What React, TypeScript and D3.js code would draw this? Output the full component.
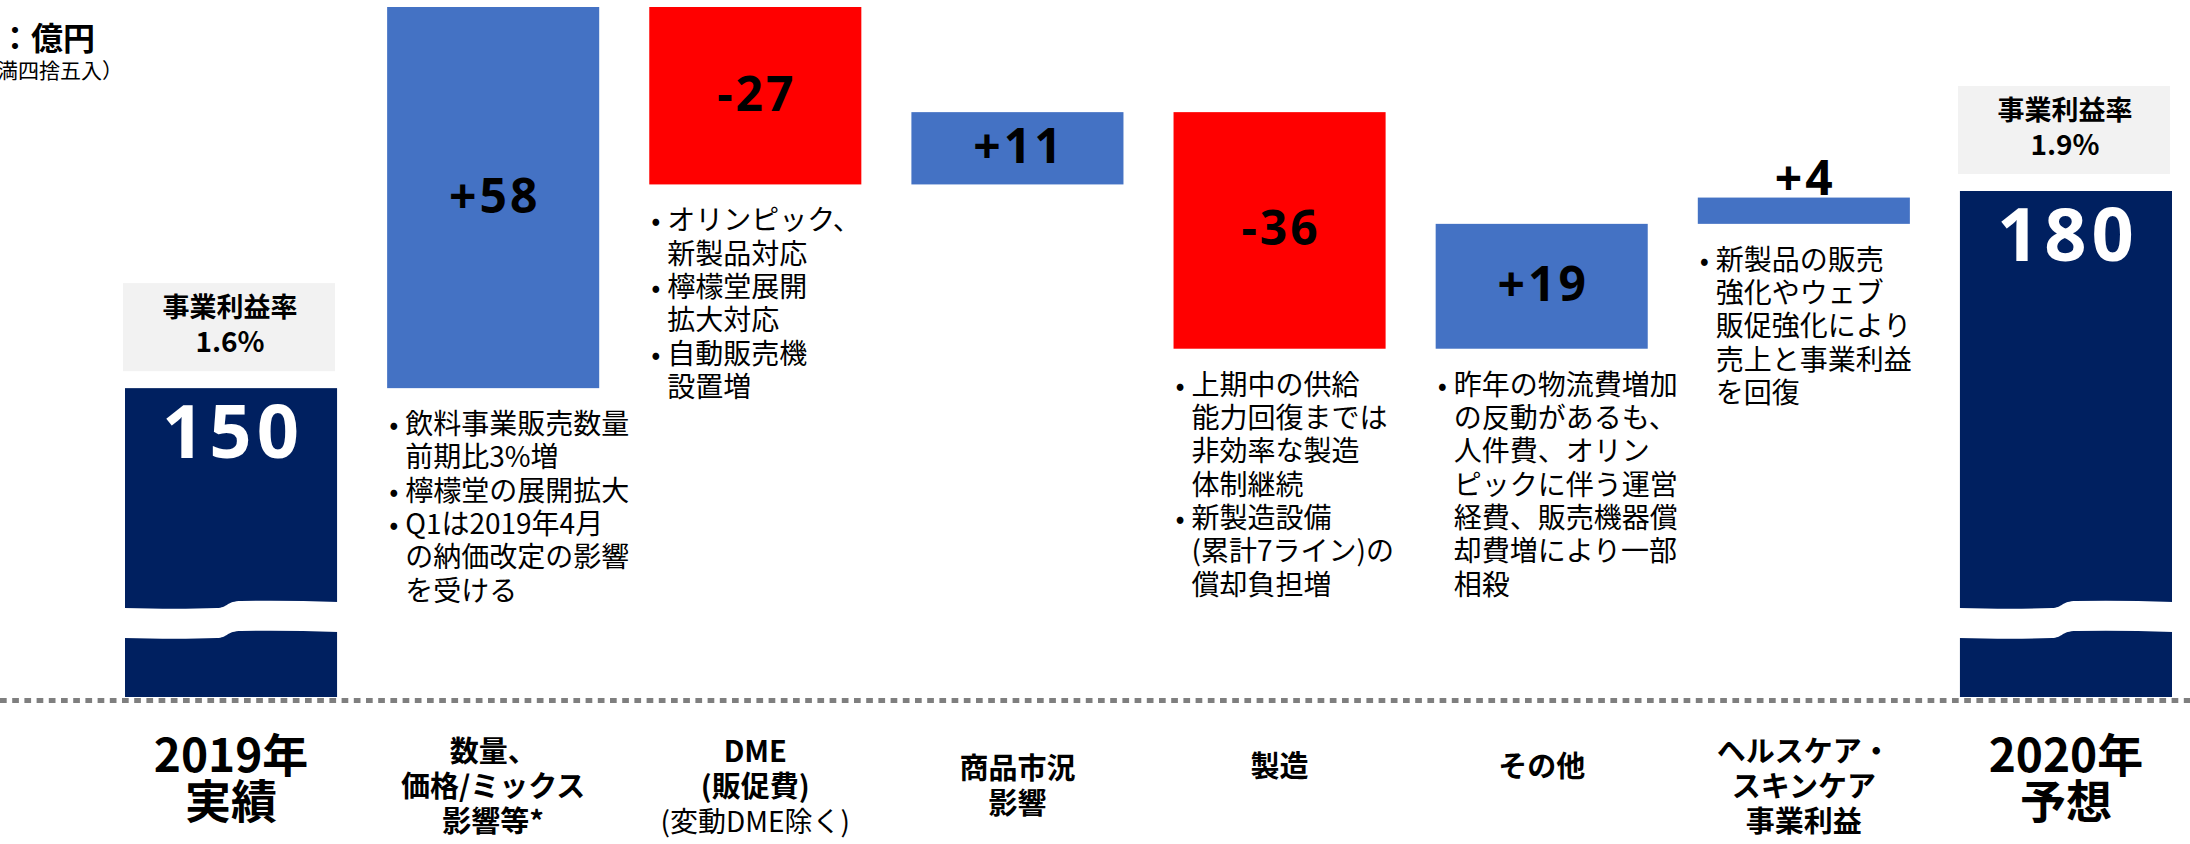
import React from "react";
import * as d3 from "d3";

const W = 2190;
const H = 844;

const categoryIds = ["y2019", "volume", "dme", "market", "mfg", "other", "health", "y2020"];
const categoryLines = [
  ["2019年", "実績"],
  ["数量、", "価格/ミックス", "影響等*"],
  ["DME", "(販促費)"],
  ["商品市況", "影響"],
  ["製造"],
  ["その他"],
  ["ヘルスケア・", "スキンケア", "事業利益"],
  ["2020年", "予想"],
];
const categorySubLines = ["", "", "(変動DME除く)", "", "", "", "", ""];
const kinds = ["total", "delta", "delta", "delta", "delta", "delta", "delta", "total"];
const values = [150, 58, -27, 11, -36, 19, 4, 180];
const valueLabels = ["150", "+58", "-27", "+11", "-36", "+19", "+4", "180"];
const rateTitle = "事業利益率";
const rateLabels = ["1.6%", "", "", "", "", "", "", "1.9%"];
const notes: string[][][] = [
  [],
  [["飲料事業販売数量", "前期比3%増"], ["檸檬堂の展開拡大"], ["Q1は2019年4月", "の納価改定の影響", "を受ける"]],
  [["オリンピック、", "新製品対応"], ["檸檬堂展開", "拡大対応"], ["自動販売機", "設置増"]],
  [],
  [["上期中の供給", "能力回復までは", "非効率な製造", "体制継続"], ["新製造設備", "(累計7ライン)の", "償却負担増"]],
  [["昨年の物流費増加", "の反動があるも、", "人件費、オリン", "ピックに伴う運営", "経費、販売機器償", "却費増により一部", "相殺"]],
  [["新製品の販売", "強化やウェブ", "販促強化により", "売上と事業利益", "を回復"]],
  [],
];
const unitTitle = "単位：億円";
const unitNote = "（億円未満四捨五入）";
const yDomain = [103, 208];

const JP = "'Noto Sans CJK JP', 'Noto Sans', sans-serif";
const NUM = "'Noto Sans', 'Noto Sans CJK JP', sans-serif";
const BLUE = "#4472c4";
const RED = "#ff0000";
const NAVY = "#002060";

export default function App() {
  const x = d3
    .scaleBand<string>()
    .domain(categoryIds)
    .range([125, 2172])
    .paddingInner(0.191)
    .paddingOuter(0);
  const y = d3.scaleLinear().domain(yDomain).range([697, 7]);
  const bw = x.bandwidth();

  let running = 0;
  const bars = values.map((v, i) => {
    const id = categoryIds[i];
    if (kinds[i] === "total") {
      running = v;
      return { id, i, lo: yDomain[0], hi: v, color: NAVY, total: true };
    }
    const start = running;
    running += v;
    return {
      id,
      i,
      lo: Math.min(start, running),
      hi: Math.max(start, running),
      color: v >= 0 ? BLUE : RED,
      total: false,
    };
  });

  const baseY = y(yDomain[0]);

  const breakPath = (xl: number, xr: number) => {
    const xc = (xl + xr) / 2;
    const yL = baseY - 89;
    const yR = baseY - 96;
    const t = 30;
    return [
      `M${xl - 1},${yL}`,
      `Q${(xl + xc) / 2},${yL + 1.5} ${xc - 14},${yL}`,
      `C${xc - 4},${yL} ${xc - 4},${yR} ${xc + 10},${yR}`,
      `Q${(xc + xr) / 2},${yR - 1} ${xr + 1},${yR + 1}`,
      `L${xr + 1},${yR + 1 + t}`,
      `Q${(xc + xr) / 2},${yR - 1 + t} ${xc + 10},${yR + t}`,
      `C${xc - 4},${yR + t} ${xc - 4},${yL + t} ${xc - 14},${yL + t}`,
      `Q${(xl + xc) / 2},${yL + 1.5 + t} ${xl - 1},${yL + t}`,
      "Z",
    ].join(" ");
  };

  return (
    <svg
      width={W}
      height={H}
      viewBox={`0 0 ${W} ${H}`}
      style={{ position: "absolute", left: 0, top: 0, display: "block", background: "#fff" }}
    >
      <rect x={0} y={0} width={W} height={H} fill="#fff" />
      {/* unit title (cut at left edge as in the slide) */}
      <text x={95} y={50} textAnchor="end" fontFamily={JP} fontWeight={700} fontSize={32} fill="#000">
        {unitTitle}
      </text>
      <text x={123} y={78} textAnchor="end" fontFamily={JP} fontWeight={400} fontSize={21} fill="#000">
        {unitNote}
      </text>

      {/* bars */}
      {bars.map((b) => {
        const bx = x(b.id) as number;
        const top = y(b.hi);
        const bottom = y(b.lo);
        return (
          <g key={b.id}>
            <rect x={bx} y={top} width={bw} height={bottom - top} fill={b.color} />
            {b.total && <path d={breakPath(bx, bx + bw)} fill="#fff" />}
          </g>
        );
      })}

      {/* value labels */}
      {bars.map((b) => {
        const bx = x(b.id) as number;
        const cx = bx + bw / 2;
        const top = y(b.hi);
        const bottom = y(b.lo);
        if (b.total) {
          return (
            <text
              key={"v" + b.id}
              x={cx + 2}
              y={top + 70}
              textAnchor="middle"
              fontFamily={NUM}
              fontWeight={700}
              fontSize={74}
              letterSpacing={5}
              fill="#fff"
            >
              {valueLabels[b.i]}
            </text>
          );
        }
        const h = bottom - top;
        const ty = h > 45 ? (top + bottom) / 2 + 15 : top - 3;
        return (
          <text
            key={"v" + b.id}
            x={cx + 1.5}
            y={ty}
            textAnchor="middle"
            fontFamily={NUM}
            fontWeight={700}
            fontSize={48}
            letterSpacing={3}
            fill="#000"
          >
            {valueLabels[b.i]}
          </text>
        );
      })}

      {/* rate boxes */}
      {bars.map((b) => {
        if (!rateLabels[b.i]) return null;
        const bx = x(b.id) as number;
        const boxTop = y(b.hi) - 17 - 88;
        const cx = bx + bw / 2 - 1;
        return (
          <g key={"r" + b.id}>
            <rect x={bx - 2} y={boxTop} width={bw} height={88} fill="#f2f2f2" />
            <text x={cx} y={boxTop + 34} textAnchor="middle" fontFamily={JP} fontWeight={700} fontSize={27} fill="#000">
              {rateTitle}
            </text>
            <text x={cx} y={boxTop + 69} textAnchor="middle" fontFamily={JP} fontWeight={700} fontSize={28} fill="#000">
              {rateLabels[b.i]}
            </text>
          </g>
        );
      })}

      {/* notes */}
      {bars.map((b) => {
        const items = notes[b.i];
        if (!items.length) return null;
        const bx = x(b.id) as number;
        const startY = y(b.lo) + 46;
        const lh = 33.3;
        let line = 0;
        const els: React.ReactNode[] = [];
        items.forEach((item, k) => {
          item.forEach((txt, j) => {
            const ly = startY + line * lh;
            if (j === 0) {
              els.push(
                <text key={`b${k}`} x={bx + 2} y={ly} fontFamily={JP} fontSize={27} fill="#000">
                  •
                </text>
              );
            }
            els.push(
              <text key={`t${k}-${j}`} x={bx + 18} y={ly} fontFamily={JP} fontSize={28} fill="#000">
                {txt}
              </text>
            );
            line++;
          });
        });
        return <g key={"n" + b.id}>{els}</g>;
      })}

      {/* dotted baseline */}
      <line
        x1={0}
        x2={W}
        y1={baseY + 3.5}
        y2={baseY + 3.5}
        stroke="#7f7f7f"
        strokeWidth={5}
        strokeDasharray="6.7 5.5"
      />

      {/* category labels */}
      {categoryIds.map((id, i) => {
        const cx = (x(id) as number) + bw / 2;
        const isTotal = kinds[i] === "total";
        const lines = categoryLines[i].map((t) => ({ t, bold: true }));
        if (categorySubLines[i]) lines.push({ t: categorySubLines[i], bold: false });
        const fs = isTotal ? 46 : 29;
        const lh = isTotal ? 46 : 35;
        const center = isTotal ? 778 : lines.length === 1 ? 766 : 786;
        const first = center - ((lines.length - 1) * lh) / 2 + fs * 0.37;
        return (
          <g key={"c" + id}>
            {lines.map((l, j) => (
              <text
                key={j}
                x={cx}
                y={first + j * lh}
                textAnchor="middle"
                fontFamily={JP}
                fontWeight={l.bold ? 700 : 400}
                fontSize={l.bold ? fs : 28}
                fill="#000"
              >
                {l.t}
              </text>
            ))}
          </g>
        );
      })}
    </svg>
  );
}
